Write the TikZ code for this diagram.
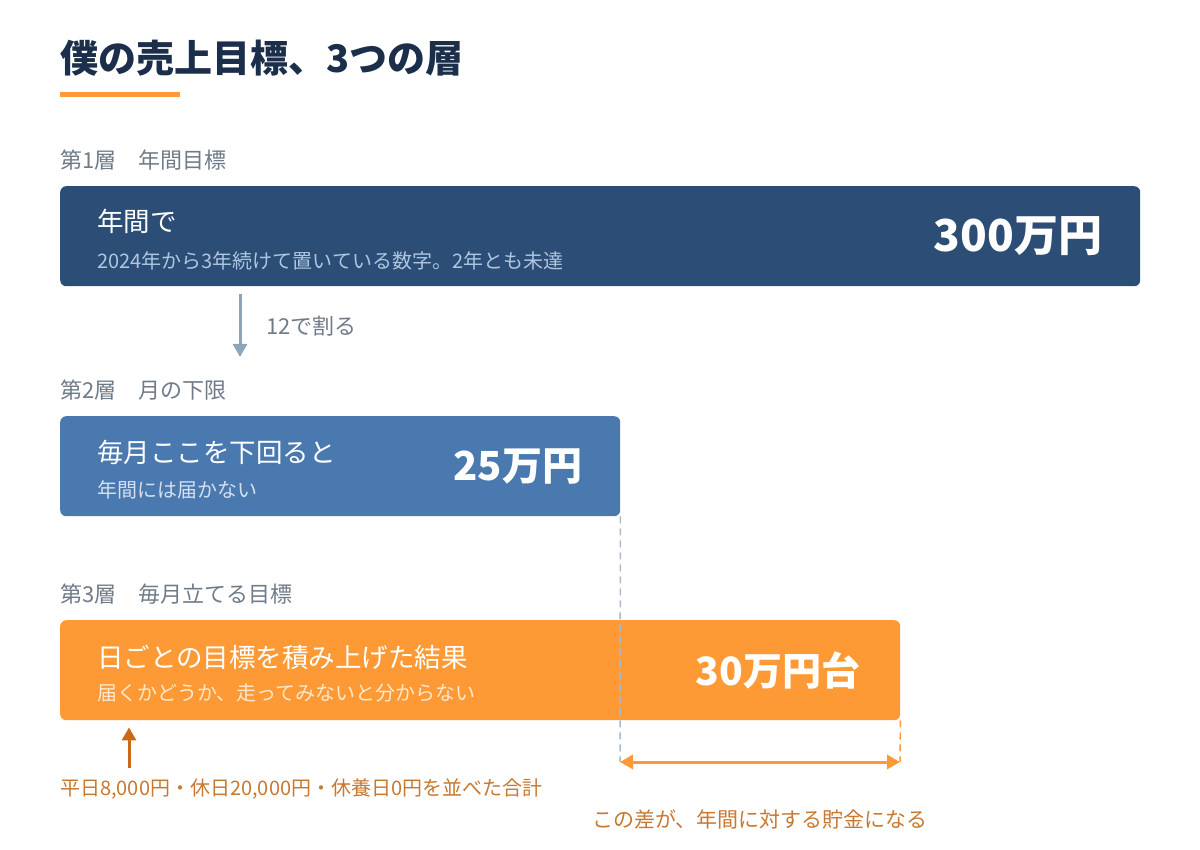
\documentclass[tikz,border=0pt]{standalone}
\usepackage{fontspec}
\setmainfont{Noto Sans CJK JP}
\usepackage{tikz}
\usetikzlibrary{arrows.meta,positioning,calc}

\definecolor{titlenavy}{HTML}{1B2F4B}
\definecolor{accent}{HTML}{FE9A35}
\definecolor{tierdeep}{HTML}{2B4D76}
\definecolor{tiermid}{HTML}{4A79B0}
\definecolor{labelgray}{HTML}{6F7B88}
\definecolor{arrowgray}{HTML}{8FA3BB}
\definecolor{dashgray}{HTML}{A9BACD}
\definecolor{liftorange}{HTML}{C8691A}
\definecolor{noteorange}{HTML}{C8782F}
\definecolor{subdeep}{HTML}{AFC5E0}
\definecolor{submid}{HTML}{D3E0EF}
\definecolor{subwarm}{HTML}{FFE8CC}

\begin{document}
\begin{tikzpicture}[
  x=1pt, y=-1pt,
  >={Triangle[length=13pt, width=14pt]},
  tier/.style={rectangle, rounded corners=6pt, anchor=north west, minimum height=100pt, inner sep=0pt},
  layer/.style={anchor=west, inner sep=0pt, text=labelgray, font=\fontsize{22}{26}\selectfont},
  head/.style={anchor=west, inner sep=0pt, text=white, font=\fontsize{26.5}{31}\selectfont},
  sub/.style={anchor=west, inner sep=0pt, font=\fontsize{20}{24}\selectfont},
  amount/.style={anchor=east, inner sep=0pt, text=white, font=\bfseries\fontsize{40}{48}\selectfont},
  note/.style={inner sep=0pt, text=noteorange, font=\fontsize{20}{24}\selectfont},
  flow/.style={->, line width=3pt, draw=arrowgray},
  lift/.style={->, line width=3pt, draw=liftorange},
  span/.style={<->, line width=3pt, draw=accent},
  gap/.style={line width=1.5pt, dash pattern=on 7pt off 5pt},
]
\useasboundingbox (0,0) rectangle (1200,850);

\node[anchor=west, inner sep=0pt, text=titlenavy, font=\bfseries\fontsize{38}{45}\selectfont] (title) at (60,58) {僕の売上目標、3つの層};
\node[tier, fill=accent, minimum width=120pt, minimum height=5pt, rounded corners=0pt] (bar) at (60,92) {};

\node[tier, fill=tierdeep, minimum width=1080pt] (tier1) at (60,186) {};
\node[layer] (layer1) at ([yshift=26pt]tier1.north west) {第1層　年間目標};
\node[head] (head1) at ([shift={(37pt,15pt)}]tier1.west) {年間で};
\node[sub, text=subdeep] (sub1) at ([shift={(37pt,-25pt)}]tier1.west) {2024年から3年続けて置いている数字。2年とも未達};
\node[amount, font=\bfseries\fontsize{44}{52}\selectfont, left=38pt of tier1.east] (amount1) {300万円};

\node[tier, fill=tiermid, minimum width=560pt] (tier2) at (60,416) {};
\node[layer] (layer2) at ([yshift=26pt]tier2.north west) {第2層　月の下限};
\node[head] (head2) at ([shift={(37pt,14pt)}]tier2.west) {毎月ここを下回ると};
\node[sub, text=submid] (sub2) at ([shift={(37pt,-24pt)}]tier2.west) {年間には届かない};
\node[amount, left=38pt of tier2.east] (amount2) {25万円};

\node[tier, fill=accent, minimum width=840pt] (tier3) at (60,620) {};
\node[layer] (layer3) at ([yshift=26pt]tier3.north west) {第3層　毎月立てる目標};
\node[head] (head3) at ([shift={(37pt,13pt)}]tier3.west) {日ごとの目標を積み上げた結果};
\node[sub, text=subwarm] (sub3) at ([shift={(37pt,-23pt)}]tier3.west) {届くかどうか、走ってみないと分からない};
\node[amount, font=\bfseries\fontsize{39}{47}\selectfont, left=40pt of tier3.east] (amount3) {30万円台};

\node[note, anchor=west] (sumnote) at (60,789) {平日8,000円・休日20,000円・休養日0円を並べた合計};

\coordinate (gapL) at (620,762);
\coordinate (gapR) at (900,762);

\draw[flow] ([shift={(180pt,-8pt)}]tier1.south west) -- node[layer, right=25pt] {12で割る} ([shift={(180pt,59pt)}]tier2.north west);
\draw[gap, draw=dashgray] (tier2.south east) -- (gapL);
\draw[gap, draw=accent] (tier3.south east) -- (gapR);
\draw[span] (gapL) -- node[note, font=\fontsize{21}{25}\selectfont, below=46pt] {この差が、年間に対する貯金になる} (gapR);
\draw[lift] ([shift={(69pt,10pt)}]sumnote.north west) -- ([shift={(69pt,-7pt)}]tier3.south west);

\end{tikzpicture}
\end{document}
